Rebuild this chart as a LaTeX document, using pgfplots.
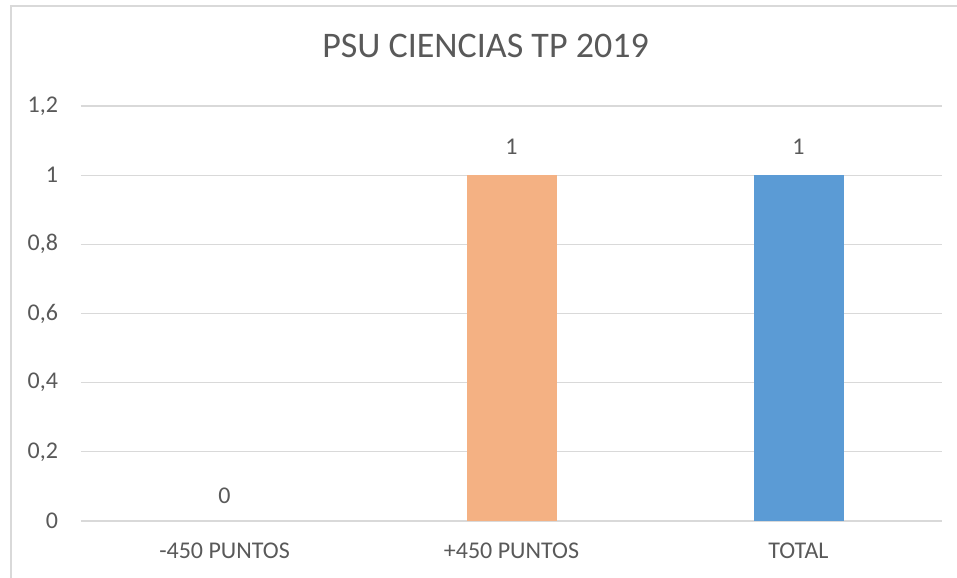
\documentclass[border=0pt]{standalone}
\usepackage{pgfplots}
\pgfplotsset{compat=1.18}
\usepackage{fontspec}
\setmainfont{Carlito}
\definecolor{txt}{HTML}{595959}
\definecolor{gridc}{HTML}{D9D9D9}
\definecolor{orangebar}{HTML}{F4B183}
\definecolor{bluebar}{HTML}{5B9BD5}
\begin{document}
\begin{tikzpicture}[x=0.75pt,y=0.75pt]
\useasboundingbox (0,0) rectangle (957,578);
\begin{scope}
\clip (0,0) rectangle (957,578);
\draw[gridc, line width=1.5pt] (11,-10) -- (11,572) -- (970,572);
\end{scope}
\node[txt, font=\fontsize{27}{32}\selectfont] at (485.5,532) {PSU CIENCIAS TP 2019};
\begin{axis}[
  at={(60.75pt,42.75pt)}, anchor=south west,
  scale only axis, width=645.75pt, height=311.25pt,
  xmin=-0.5, xmax=2.5, ymin=0, ymax=1.2,
  ytick={0,0.2,0.4,0.6,0.8,1,1.2},
  xtick={0,1,2},
  xticklabels={-450 PUNTOS,+450 PUNTOS,TOTAL},
  axis line style={draw=none},
  major tick length=0pt,
  ymajorgrids, grid style={gridc, line width=0.9pt},
  /pgf/number format/.cd, use comma, fixed, precision=1, assume math mode=true,
  /pgfplots/.cd,
  ticklabel style={txt, font=\fontsize{18}{21}\selectfont},
  yticklabel style={anchor=east, inner sep=0pt, xshift=-17pt},
  xticklabel style={anchor=center, inner sep=0pt, yshift=-22.5pt},
  ybar, bar width=67.5pt,
  nodes near coords,
  nodes near coords style={txt, font=\fontsize{18}{21}\selectfont, anchor=center, inner sep=0pt},
]
\addplot[bar shift=0pt, draw=none, fill=none, nodes near coords style={yshift=18.75pt}] coordinates {(0,0)};
\addplot[bar shift=0pt, draw=none, fill=orangebar, nodes near coords style={yshift=21pt}] coordinates {(1,1)};
\addplot[bar shift=0pt, draw=none, fill=bluebar, nodes near coords style={yshift=21pt}] coordinates {(2,1)};
\end{axis}
\end{tikzpicture}
\end{document}
